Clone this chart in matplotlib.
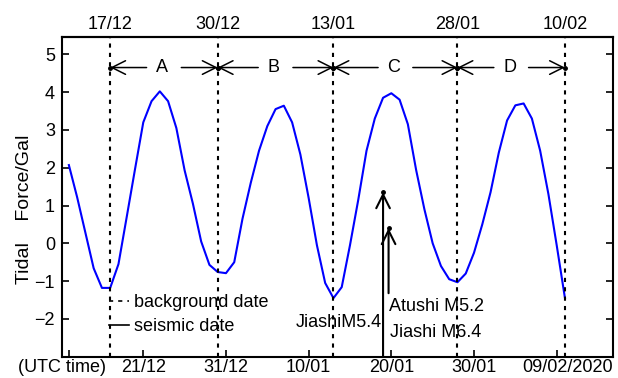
import numpy as np
import matplotlib
matplotlib.use("Agg")
import matplotlib.pyplot as plt
import matplotlib.dates as mdates
from matplotlib.lines import Line2D
from matplotlib.transforms import ScaledTranslation

plt.rcParams['font.family'] = ['Liberation Sans', 'DejaVu Sans']
plt.rcParams['font.size'] = 13

# daily tidal force, 12/12/2019 .. 10/02/2020
first_day = np.datetime64('2019-12-12')
tidal_force = [2.07, 1.22, 0.28, -0.66, -1.18, -1.18, -0.55, 0.7, 1.96, 3.2,
               3.76, 4.02, 3.76, 3.05, 1.93, 1.05, 0.05, -0.57, -0.76, -0.79,
               -0.5, 0.65, 1.6, 2.45, 3.1, 3.55, 3.64, 3.2, 2.35, 1.2,
               -0.05, -1.05, -1.45, -1.16, -0.05, 1.15, 2.45, 3.3, 3.85, 3.97,
               3.8, 3.15, 1.94, 0.9, 0.0, -0.6, -0.95, -1.03, -0.8, -0.25,
               0.5, 1.35, 2.4, 3.25, 3.65, 3.7, 3.3, 2.45, 1.3, -0.05, -1.45]

background_dates = ['2019-12-17', '2019-12-30', '2020-01-13', '2020-01-28', '2020-02-10']
background_labels = ['17/12', '30/12', '13/01', '28/01', '10/02']
period_names = ['A', 'B', 'C', 'D']

tick_dates = ['2019-12-12', '2019-12-21', '2019-12-31', '2020-01-10',
              '2020-01-20', '2020-01-30', '2020-02-09']
tick_labels = ['(UTC time)', '21/12', '31/12', '10/01', '20/01', '30/01', '09/02/2020']

# seismic events: date, arrow tip value, arrow foot value
quake_dates = ['2020-01-19T00:00', '2020-01-19T16:00']
quake_tips = [1.35, 0.4]
quake_bottoms = [-3.0, -1.32]

days = first_day + np.arange(len(tidal_force))
x = mdates.date2num(days)
bg_x = mdates.date2num(np.array(background_dates, dtype='datetime64[D]'))
tick_x = mdates.date2num(np.array(tick_dates, dtype='datetime64[D]'))
quake_x = mdates.date2num(np.array(quake_dates, dtype='datetime64[m]'))

fig = plt.figure(figsize=(6.18, 3.78), dpi=100)
ax = fig.add_axes([62 / 618, 1 - 356.7 / 378, (613 - 62) / 618, (356.7 - 37.3) / 378])

ax.plot(x, tidal_force, color='#0000ff', lw=1.5)

for xv in bg_x:
    ax.axvline(xv, color='k', ls=(0, (2, 2.5)), lw=1.5)

# period arrows A-D
head = '->,head_length=0.7,head_width=0.35'
for i, name in enumerate(period_names):
    left, right = bg_x[i], bg_x[i + 1]
    mid = (left + right) / 2
    ax.text(mid - 0.2, 4.65, name, ha='center', va='center')
    for tip, tail in [(left, mid - 2.1), (right, mid + 2.1)]:
        ax.annotate('', xy=(tip, 4.65), xytext=(tail, 4.65),
                    arrowprops=dict(arrowstyle=head, color='k', lw=1.1,
                                    shrinkA=0, shrinkB=0, mutation_scale=14))
        ax.plot(tip, 4.65, 'k.', ms=5)

# seismic arrows
for qx, tip, bottom in zip(quake_x, quake_tips, quake_bottoms):
    ax.annotate('', xy=(qx, tip), xytext=(qx, bottom),
                arrowprops=dict(arrowstyle=head, color='k', lw=1.5,
                                shrinkA=0, shrinkB=0, mutation_scale=14))
    ax.plot(qx, tip, 'k.', ms=5)

ax.text(quake_x[0] - 0.1, -2.1, 'JiashiM5.4', ha='right', va='center')
ax.text(quake_x[1] + 0.1, -1.67, 'Atushi M5.2', ha='left', va='center')
ax.text(quake_x[1] + 0.2, -2.37, 'Jiashi M6.4', ha='left', va='center')

handles = [Line2D([], [], color='k', ls=(0, (2.5, 3)), lw=1.2),
           Line2D([], [], color='k', ls='-', lw=1.2)]
fig.legend(handles, ['background date', 'seismic date'], loc='upper left',
           bbox_to_anchor=(109 / 618, 1 - 294 / 378), frameon=False,
           handlelength=1.1, handletextpad=0.3, labelspacing=0.4,
           borderpad=0, borderaxespad=0)

ax.set_xlim(mdates.date2num(np.datetime64('2019-12-21')) - 9.83,
            mdates.date2num(np.datetime64('2019-12-21')) + 56.81)
ax.set_ylim(-3, 5.45)
ax.set_yticks(range(-2, 6))
ax.set_xticks(tick_x)
ax.set_xticklabels(tick_labels)
ax.set_ylabel('Tidal    Force/Gal', fontsize=14)
ax.yaxis.set_label_coords(-0.053, 0.46)

ax.tick_params(direction='in', length=5, width=1.2, right=True, top=False)
ax.tick_params(axis='x', pad=2)
ax.tick_params(axis='y', pad=5)
for sp in ax.spines.values():
    sp.set_linewidth(1.5)

labels = ax.get_xticklabels()
labels[0].set_transform(labels[0].get_transform() + ScaledTranslation(-0.07, 0, fig.dpi_scale_trans))
labels[-1].set_transform(labels[-1].get_transform() + ScaledTranslation(0.11, 0, fig.dpi_scale_trans))

top = ax.secondary_xaxis('top')
top.set_xticks(bg_x)
top.set_xticklabels(background_labels)
top.tick_params(length=0, pad=3)
top.spines['top'].set_linewidth(1.5)

fig.savefig('out.png', dpi=100)
